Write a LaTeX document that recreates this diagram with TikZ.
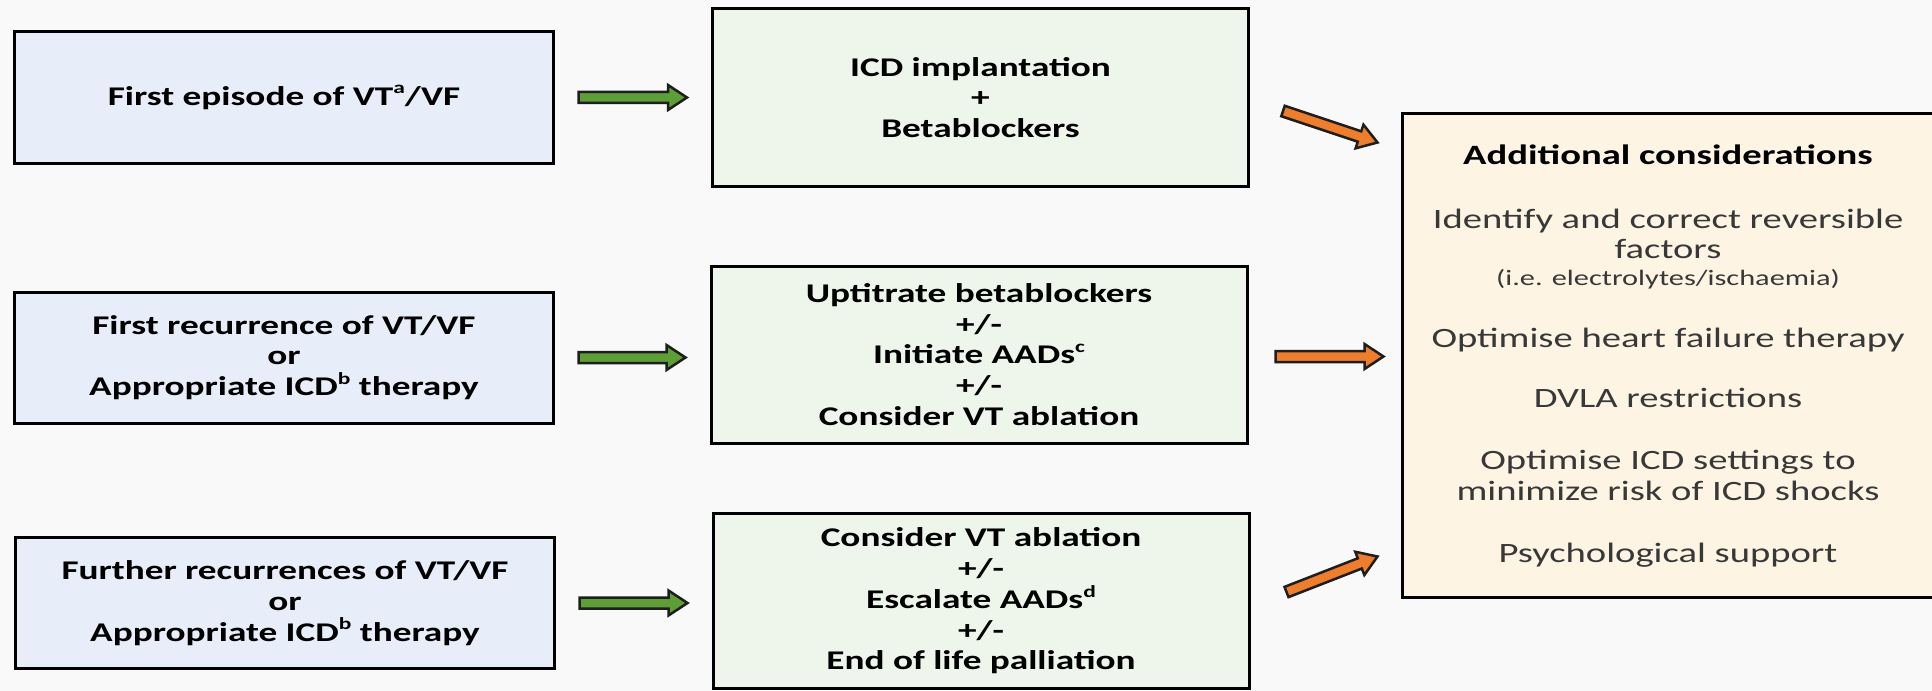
\documentclass[tikz,border=0pt]{standalone}
\usepackage{fontspec}
\setmainfont{Carlito}[FakeStretch=1.38]
\usetikzlibrary{calc}

\definecolor{bgcol}{HTML}{F9F9F9}
\definecolor{bluefill}{HTML}{E8EEF9}
\definecolor{greenfill}{HTML}{EEF6EC}
\definecolor{creamfill}{HTML}{FDF4E4}
\definecolor{arrowgreen}{HTML}{5E9E37}
\definecolor{arroworange}{HTML}{EE7D2C}
\definecolor{outline}{HTML}{1E1E1E}
\definecolor{softtext}{HTML}{383838}

\newcommand\boxfont{\fontsize{27bp}{30.7bp}\selectfont\bfseries}
\newcommand\notefont{\fontsize{28bp}{31bp}\selectfont}
\newcommand\smallnotefont{\fontsize{22bp}{25bp}\selectfont}
% small raised letter for footnote marks
\newcommand\fnmark[1]{\raisebox{0.42em}{\fontsize{17bp}{17bp}\selectfont #1}}

% block arrow from a tail coordinate to a tip coordinate
\newcommand\blockarrow[3]{%
  \coordinate (#1-neck) at ($(#2)!19bp!(#1)$);
  \filldraw[blockarrowline, fill=#3]
    ($(#1)!5.5bp!90:(#2)$) -- ($(#1-neck)!5.5bp!90:(#2)$)
    -- ($(#1-neck)!12.5bp!90:(#2)$) -- (#2)
    -- ($(#1-neck)!12.5bp!-90:(#2)$) -- ($(#1-neck)!5.5bp!-90:(#2)$)
    -- ($(#1)!5.5bp!-90:(#2)$) -- cycle;
}

\tikzset{
  box/.style={draw=black, line width=3bp, align=center, inner sep=0pt,
    font=\boxfont, text=black},
  trigger/.style={box, fill=bluefill, minimum width=538bp, minimum height=131bp},
  action/.style={box, fill=greenfill, minimum width=536bp, minimum height=177bp},
  notebox/.style={draw=black, line width=3bp, fill=creamfill,
    minimum width=534bp, minimum height=483bp, inner sep=0pt},
  notetitle/.style={anchor=base, inner sep=0pt, font=\notefont\bfseries, text=black},
  noteline/.style={anchor=base, inner sep=0pt, font=\notefont, text=softtext},
  notesmall/.style={anchor=base, inner sep=0pt, font=\smallnotefont, text=softtext},
  blockarrowline/.style={draw=outline, line width=2.5bp, line join=miter},
}

\begin{document}
\begin{tikzpicture}[x=1bp, y=-1bp]
  \useasboundingbox (0,0) rectangle (1932,691);
  \fill[bgcol] (0,0) rectangle (1932,691);

  % triggering events
  \node[trigger] (a1) at (284,97.5) {First episode of VT\fnmark{a}/VF};
  \node[trigger] (a2) at (284,357.5) {First recurrence of VT/VF\\or\\Appropriate ICD\fnmark{b} therapy};
  \node[trigger] (a3) at (285,603) {Further recurrences of VT/VF\\or\\Appropriate ICD\fnmark{b} therapy};

  % management steps
  \node[action] (b1) at (980.5,97.5) {ICD implantation\\+\\Betablockers};
  \node[action] (b2) at (979,354.5) {Uptitrate betablockers\\+/-\\Initiate AADs\fnmark{c}\\+/-\\Consider VT ablation};
  \node[action, minimum height=175bp] (b3) at (981,601) {Consider VT ablation\\+/-\\Escalate AADs\fnmark{d}\\+/-\\End of life palliation};

  % additional considerations
  \node[notebox] (c) at (1669,355.5) {};
  \node[notetitle] (c0) at (1668,165) {Additional considerations};
  \node[noteline]  (c1) at (1668,228) {Identify and correct reversible};
  \node[noteline]  (c2) at (1668,258) {factors};
  \node[notesmall] (c3) at (1668,285) {(i.e. electrolytes/ischaemia)};
  \node[noteline]  (c4) at (1668,347) {Optimise heart failure therapy};
  \node[noteline]  (c5) at (1668,407) {DVLA restrictions};
  \node[noteline]  (c6) at (1668,469) {Optimise ICD settings to};
  \node[noteline]  (c7) at (1668,500) {minimize risk of ICD shocks};
  \node[noteline]  (c8) at (1668,562) {Psychological support};

  % arrow end points
  \coordinate (g1t) at ($(a1.east)+(24,0)$);
  \coordinate (g1h) at ($(b1.west |- a1.east)+(-24,0)$);
  \coordinate (g2t) at ($(a2.east)+(24,0)$);
  \coordinate (g2h) at ($(b2.west |- a2.east)+(-24,0)$);
  \coordinate (g3t) at ($(a3.east)+(24,0)$);
  \coordinate (g3h) at ($(b3.west |- a3.east)+(-24,0)$);
  \coordinate (o1t) at ($(b1.east)+(33,13.5)$);
  \coordinate (o1h) at ($(c.north west)+(-23,30)$);
  \coordinate (o2t) at ($(b2.east)+(27,2)$);
  \coordinate (o2h) at ($(c.west |- o2t)+(-17,0)$);
  \coordinate (o3t) at ($(b3.east)+(36,-9)$);
  \coordinate (o3h) at ($(c.south west)+(-23,-42)$);

  \blockarrow{g1t}{g1h}{arrowgreen}
  \blockarrow{g2t}{g2h}{arrowgreen}
  \blockarrow{g3t}{g3h}{arrowgreen}
  \blockarrow{o1t}{o1h}{arroworange}
  \blockarrow{o2t}{o2h}{arroworange}
  \blockarrow{o3t}{o3h}{arroworange}
\end{tikzpicture}
\end{document}
